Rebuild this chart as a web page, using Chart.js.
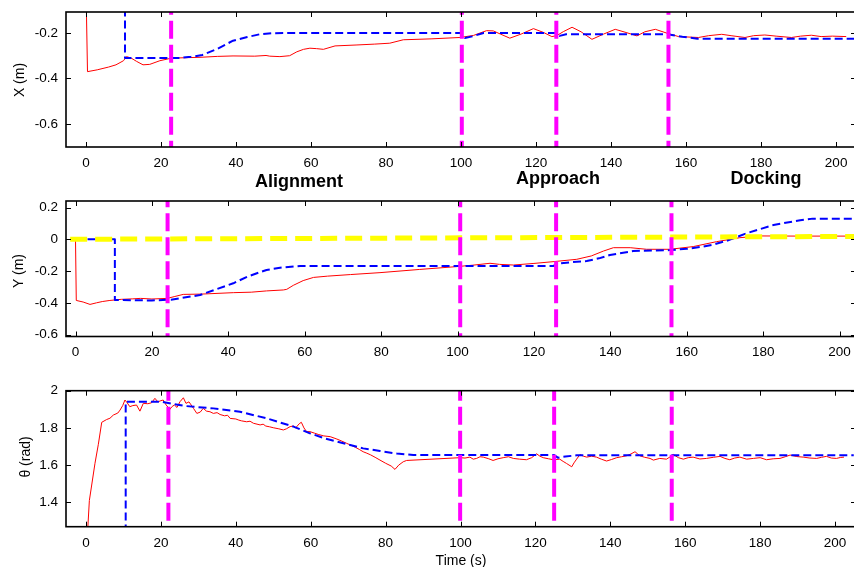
<!DOCTYPE html>
<html>
<head>
<meta charset="utf-8">
<script src="https://cdn.jsdelivr.net/npm/chart.js@4.4.1/dist/chart.umd.min.js"></script>
<style>
  html,body{margin:0;padding:0;background:#fff;}
  body{width:854px;height:567px;overflow:hidden;position:relative;font-family:"Liberation Sans",Arial,sans-serif;}
  canvas{position:absolute;left:0;}
  .t{position:absolute;white-space:nowrap;color:#000;line-height:1;transform:translate(-50%,-50%);z-index:5;}
  .phase{font-weight:bold;font-size:18px;}
  .ax{font-size:14px;}
  .rot{transform:translate(-50%,-50%) rotate(-90deg);}
</style>
</head>
<body>
<canvas id="c1" width="860" height="180" style="top:0px;width:860px;height:180px"></canvas>
<canvas id="c2" width="860" height="175" style="top:190px;width:860px;height:175px"></canvas>
<canvas id="c3" width="860" height="187" style="top:380px;width:860px;height:187px"></canvas>
<div id="labels"></div>
<script>
// ---------- data ----------
const timeTicks = [0, 20, 40, 60, 80, 100, 120, 140, 160, 180, 200];
const xTicks = [-0.6, -0.4, -0.2];
const yTicks = [-0.6, -0.4, -0.2, 0, 0.2];
const thetaTicks = [1.4, 1.6, 1.8, 2];
const phaseNames = ['Alignment', 'Approach', 'Docking'];
const axisTitles = ['X (m)', 'Y (m)', 'θ (rad)', 'Time (s)'];

const xPhaseTimes = [22.7, 100.2, 125.4, 155.3];
const yPhaseTimes = [24.1, 100.7, 125.8, 156.0];
const thetaPhaseTimes = [22.0, 99.9, 125.0, 156.4];

// X position (m)
const xActual = [[0,0],[0.4,-0.37],[3,-0.362],[6,-0.35],[8,-0.34],[10,-0.322],[10.8,-0.304],[12,-0.31],[13.5,-0.325],[15.2,-0.34],[17,-0.338],[19.7,-0.322],[22.7,-0.311],[26,-0.309],[30.4,-0.307],[35,-0.303],[39.2,-0.301],[45,-0.302],[48,-0.299],[49,-0.302],[51.7,-0.304],[54.3,-0.300],[56.2,-0.283],[58,-0.272],[59.7,-0.267],[61.5,-0.269],[63.3,-0.272],[66.4,-0.257],[72,-0.253],[77,-0.249],[81,-0.245],[84.6,-0.230],[92,-0.226],[99.7,-0.220],[103.3,-0.211],[106.8,-0.190],[108.6,-0.191],[110.5,-0.205],[113,-0.223],[116,-0.205],[119.3,-0.181],[122,-0.198],[124.2,-0.216],[125.5,-0.212],[127.3,-0.194],[129.6,-0.175],[132,-0.195],[134.9,-0.228],[138,-0.205],[141.1,-0.184],[144,-0.198],[146.9,-0.213],[149,-0.195],[151.8,-0.184],[154.9,-0.201],[158,-0.216],[163.3,-0.220],[166,-0.212],[169.5,-0.206],[172,-0.212],[175.7,-0.220],[178,-0.212],[181,-0.209],[184,-0.214],[188.1,-0.220],[190.5,-0.214],[193.4,-0.210],[196,-0.216],[199,-0.214],[202.7,-0.216]];
const xRef = [[0,0],[10.4,0],[10.4,-0.31],[25,-0.31],[28,-0.305],[31,-0.297],[35,-0.27],[39.2,-0.234],[43,-0.218],[46.3,-0.206],[50,-0.201],[54.3,-0.200],[100,-0.200],[101,-0.222],[103,-0.215],[106,-0.200],[125,-0.200],[126.3,-0.213],[128,-0.206],[155,-0.206],[159,-0.217],[163,-0.225],[205,-0.225]];

// Y position (m)
const yActual = [[0,0],[0.2,-0.385],[2,-0.395],[3.8,-0.41],[5.5,-0.40],[7,-0.392],[9,-0.385],[12,-0.378],[15,-0.375],[17,-0.372],[20,-0.376],[24,-0.372],[26,-0.36],[28.2,-0.347],[33,-0.345],[41.3,-0.336],[46,-0.333],[50,-0.325],[54.4,-0.319],[55.3,-0.315],[57,-0.29],[59.6,-0.26],[62.3,-0.24],[66,-0.232],[72,-0.222],[79.7,-0.21],[90,-0.19],[99.8,-0.172],[104,-0.163],[108.5,-0.151],[111,-0.158],[114.6,-0.162],[120,-0.152],[125,-0.141],[131.2,-0.126],[135,-0.105],[138.2,-0.074],[140.8,-0.053],[145.2,-0.053],[149.5,-0.063],[155.6,-0.063],[161.7,-0.046],[167.8,-0.015],[173.9,0.01],[179.2,0.021],[190,0.02],[203,0.02]];
const yRef = [[0,0],[10.3,0],[10.3,-0.382],[20,-0.385],[25,-0.38],[32.6,-0.351],[41.3,-0.277],[45,-0.235],[50,-0.193],[54,-0.178],[58.8,-0.168],[125,-0.168],[127,-0.151],[131.2,-0.141],[133.8,-0.137],[137,-0.12],[139.9,-0.099],[146,-0.074],[155.6,-0.068],[160,-0.06],[164.3,-0.046],[167,-0.033],[170.5,-0.009],[175.7,0.038],[182.7,0.09],[189.7,0.12],[193,0.13],[205,0.13]];
const yDesired = [[-1.4,0],[205,0.018]];

// Heading theta (rad)
const thetaActual = [[0.3,1.2],[0.9,1.41],[2.4,1.61],[3.3,1.712],[4.2,1.83],[5.5,1.845],[6.4,1.852],[7.3,1.869],[8.5,1.88],[9.1,1.896],[9.8,1.92],[10.4,1.95],[11.0,1.935],[11.7,1.914],[12.5,1.92],[13.5,1.923],[14.4,1.89],[15.3,1.932],[16.5,1.93],[17.5,1.935],[18.4,1.959],[19.2,1.94],[19.8,1.945],[20.6,1.95],[21.4,1.923],[22.4,1.90],[23.0,1.915],[23.6,1.923],[24.3,1.91],[25.1,1.941],[26,1.962],[26.7,1.932],[27.5,1.94],[28.7,1.905],[29.6,1.878],[30.5,1.885],[31.3,1.905],[32.2,1.89],[33.1,1.887],[34,1.878],[35.0,1.882],[35.8,1.872],[37,1.865],[37.8,1.868],[38.5,1.851],[40,1.848],[40.8,1.842],[41.5,1.838],[42.9,1.833],[43.8,1.836],[44.7,1.825],[46.5,1.816],[47.3,1.82],[48,1.81],[49,1.806],[50,1.801],[51.5,1.795],[52.7,1.789],[53.5,1.795],[54.5,1.807],[55.4,1.81],[56,1.80],[56.6,1.815],[57.1,1.825],[57.5,1.83],[58.2,1.80],[58.9,1.78],[59.8,1.78],[61,1.772],[62,1.765],[63.5,1.757],[65.2,1.753],[67,1.74],[68.2,1.73],[69.6,1.717],[71,1.705],[72,1.695],[73,1.684],[74,1.672],[75,1.664],[76,1.655],[77.2,1.642],[78.5,1.627],[80,1.61],[81.5,1.595],[82.5,1.577],[83.5,1.60],[84.7,1.618],[85.6,1.625],[99.9,1.64],[101.2,1.638],[102.5,1.643],[103.4,1.632],[104.3,1.636],[105.2,1.645],[106.1,1.643],[107.4,1.635],[108.7,1.625],[110,1.634],[111.4,1.64],[112.8,1.645],[114.1,1.636],[115.8,1.632],[117.6,1.629],[119,1.64],[120.3,1.661],[121.2,1.648],[122.1,1.64],[123.5,1.634],[124.8,1.629],[126.5,1.632],[127.4,1.62],[128.3,1.609],[129.7,1.591],[130.3,1.612],[131,1.632],[131.9,1.657],[132.8,1.648],[133.7,1.643],[135,1.648],[136.3,1.643],[137.6,1.632],[139,1.622],[140.3,1.63],[141.7,1.64],[143,1.645],[144.3,1.65],[145.5,1.66],[146.6,1.672],[147.3,1.66],[147.9,1.65],[149.2,1.642],[150.6,1.636],[151.5,1.627],[153.2,1.636],[155,1.632],[156,1.645],[156.8,1.657],[158.2,1.64],[159.5,1.632],[160.8,1.64],[162.1,1.643],[163.9,1.633],[165.7,1.636],[167.5,1.642],[169.3,1.647],[170.6,1.636],[171.9,1.629],[173.2,1.638],[174.6,1.643],[176.4,1.632],[178.2,1.636],[180,1.64],[181.7,1.629],[183.5,1.634],[185.3,1.636],[186.7,1.645],[188,1.654],[189.8,1.646],[191.5,1.643],[193.3,1.638],[195.1,1.636],[196.4,1.642],[197.7,1.647],[199,1.638],[200.4,1.636],[201.4,1.641],[202.4,1.643]];
const thetaRef = [[0,1.0],[10.6,1.0],[10.6,1.941],[20,1.941],[26.3,1.918],[34,1.905],[41.1,1.887],[48.3,1.851],[55.4,1.807],[59.8,1.771],[64,1.742],[69.6,1.713],[74,1.69],[78.5,1.676],[83,1.662],[87.4,1.654],[125,1.654],[126,1.64],[128,1.646],[131,1.653],[205,1.653]];

// ---------- rendering ----------
const FONT = '"Liberation Sans", Arial, sans-serif';
const toXY = arr => arr.map(p => ({x: p[0], y: p[1]}));

const boxPlugin = {
  id: 'matlabBox',
  afterDatasetsDraw(chart) {
    const {ctx, chartArea: a, scales} = chart;
    const xs = scales.x, ys = scales.y;
    ctx.save();
    ctx.strokeStyle = '#000';
    ctx.lineWidth = 1;
    ctx.beginPath();
    xs.ticks.forEach(t => {
      const p = Math.round(xs.getPixelForValue(t.value)) + 0.5;
      ctx.moveTo(p, a.bottom); ctx.lineTo(p, a.bottom - 5);
      ctx.moveTo(p, a.top); ctx.lineTo(p, a.top + 5);
    });
    ys.ticks.forEach(t => {
      const p = Math.round(ys.getPixelForValue(t.value)) + 0.5;
      ctx.moveTo(a.left, p); ctx.lineTo(a.left + 5, p);
      ctx.moveTo(a.right, p); ctx.lineTo(a.right - 5, p);
    });
    ctx.stroke();
    ctx.lineWidth = 1.6;
    ctx.strokeRect(a.left, a.top, a.right - a.left, a.bottom - a.top);
    ctx.restore();
  }
};

function lineDs(data, color, width, dash, order) {
  return {data: toXY(data), borderColor: color, borderWidth: width, borderDash: dash || [],
    pointRadius: 0, fill: false, tension: 0, order: order, borderCapStyle: 'butt', borderJoinStyle: 'round'};
}

function makeChart(id, cfg) {
  const datasets = [];
  cfg.phases.forEach(t => datasets.push(lineDs([[t, cfg.yMin - 1], [t, cfg.yMax + 1]], '#ff00ff', 4, [18, 6], 0)));
  if (cfg.desired) datasets.push(lineDs(cfg.desired, '#ffff00', 5, [17, 8], 1));
  datasets.push(lineDs(cfg.ref, '#0000ff', 2, [8, 4], 2));
  datasets.push(lineDs(cfg.actual, '#ff0000', 1, [], 3));
  return new Chart(document.getElementById(id), {
    type: 'line',
    data: {datasets},
    options: {
      responsive: false, animation: false, events: [],
      layout: {padding: {top: cfg.padTop, right: 4, left: 0, bottom: 0}},
      plugins: {legend: {display: false}, tooltip: {enabled: false}, title: {display: false}},
      scales: {
        x: {
          type: 'linear', min: cfg.xMin, max: cfg.xMax,
          grid: {display: false, drawTicks: false}, border: {display: false},
          afterBuildTicks: s => { s.ticks = timeTicks.map(v => ({value: v})); },
          afterFit: s => { s.height = cfg.axisH; s.paddingLeft = 0; s.paddingRight = 0; },
          ticks: {padding: 8, color: '#000', font: {family: FONT, size: 13.5}, maxRotation: 0, autoSkip: false,
                  callback: v => String(v)}
        },
        y: {
          type: 'linear', min: cfg.yMin, max: cfg.yMax,
          grid: {display: false, drawTicks: false}, border: {display: false},
          afterBuildTicks: s => { s.ticks = cfg.yTicks.map(v => ({value: v})); },
          afterFit: s => { s.width = 66; s.paddingTop = 0; s.paddingBottom = 0; },
          ticks: {padding: 8, color: '#000', font: {family: FONT, size: 13.5}, autoSkip: false,
                  callback: v => String(v)}
        }
      }
    },
    plugins: [boxPlugin]
  });
}

makeChart('c1', {xMin: -5.33, xMax: 205.3, yMin: -0.701, yMax: -0.108, yTicks: xTicks,
  padTop: 12, axisH: 33, phases: xPhaseTimes, ref: xRef, actual: xActual});
makeChart('c2', {xMin: -2.49, xMax: 204.3, yMin: -0.612, yMax: 0.241, yTicks: yTicks,
  padTop: 11, axisH: 28.5, phases: yPhaseTimes, ref: yRef, actual: yActual, desired: yDesired});
makeChart('c3', {xMin: -5.34, xMax: 205.6, yMin: 1.269, yMax: 2.0, yTicks: thetaTicks,
  padTop: 10.7, axisH: 40.3, phases: thetaPhaseTimes, ref: thetaRef, actual: thetaActual});

// text labels
const lab = document.getElementById('labels');
function addText(txt, cls, x, y) {
  const d = document.createElement('div');
  d.className = 't ' + cls; d.textContent = txt;
  d.style.left = x + 'px'; d.style.top = y + 'px';
  lab.appendChild(d);
}
const phasePos = [[299, 181], [558, 178], [766, 178]];
phaseNames.forEach((n, i) => addText(n, 'phase', phasePos[i][0], phasePos[i][1]));
addText(axisTitles[0], 'ax rot', 19, 80);
addText(axisTitles[1], 'ax rot', 18, 271);
addText(axisTitles[2], 'ax rot', 25, 457);
addText(axisTitles[3], 'ax', 461, 560);
</script>
</body>
</html>
